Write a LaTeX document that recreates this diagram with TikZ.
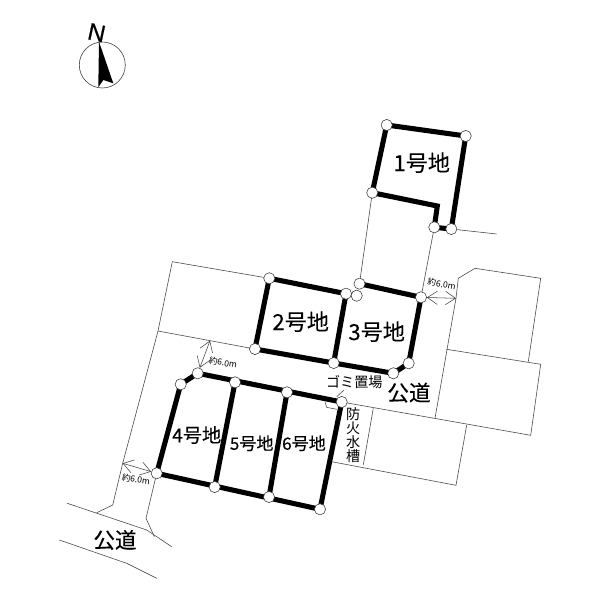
\documentclass[tikz,border=0pt]{standalone}
\usepackage{fontspec}
\setmainfont[FakeBold=0.25]{Noto Sans CJK JP}
\newfontfamily\plainjp{Noto Sans CJK JP}
\newfontfamily\latinf[FakeBold=0.6]{Liberation Sans}
\usetikzlibrary{arrows.meta,backgrounds}
\tikzset{
 px/.style={x=0.75pt,y=-0.75pt},
 mk/.style={circle,draw=black!80,line width=0.4pt,fill=white,minimum size=8.4pt,inner sep=0pt},
 lot/.style={line width=3.8pt,line join=miter,black},
 thin/.style={line width=0.45pt,black!70},
 dimline/.style={line width=0.4pt,black!75,{Straight Barb[length=7.5pt,width=10pt,line width=0.4pt]}-{Straight Barb[length=7.5pt,width=10pt,line width=0.4pt]}},
 lab/.style={inner sep=0pt,text=black},
 big/.style={lab,font=\fontsize{16.6pt}{16.6pt}\selectfont},
 mid/.style={lab,font=\fontsize{12.8pt}{12.8pt}\selectfont},
 midb/.style={lab,font=\fontsize{14.4pt}{14.4pt}\selectfont},
 road/.style={lab,font=\fontsize{16.2pt}{16.2pt}\selectfont},
 small/.style={lab,font=\plainjp\fontsize{10.6pt}{10.6pt}\selectfont},
 tiny/.style={lab,font=\plainjp\fontsize{6.4pt}{6.4pt}\selectfont}
}
\begin{document}
\begin{tikzpicture}[px]
\useasboundingbox (0,0) rectangle (600,600);
\foreach \n/\x/\y in {
 c1/437.3/206, e1/496.7/234,
 t1/172.3/261.7, t2/158/331, t3/122.7/463.3, t4/112.7/505, t5/96.7/512.7,
 r1/67.3/503.3, r2/146.7/530, r3/171.7/546.7,
 s1/59.3/540, s2/126.7/563.3, s3/156.7/578.3,
 u1/146/518.3, u2/154.3/536.7,
 v0/456/298.3, v1/458.3/278.3, v2/475/268.3, v3/540.7/278.3, v4/528.3/361.7,
 v5/446.7/349.3, v6/540.7/364.3, v7/530.7/435.3, v8/435/418.3,
 w1/466.7/425, w2/456/485.3, w3/331.7/461.7, w4/373.3/408.3, w5/363.3/465,
 d1/210/340.7,
 b1/325/401.7, b2/326.7/407.3, b3/336.7/409.3, l1/336.7/396.7, l2/344/390,
 n1/99/41.7, n2/113.3/83.3, n3/103.3/80, n4/98.3/87.3}
 {\coordinate (\n) at (\x,\y);}
\foreach \n/\x/\y in {
 a1/386.7/125, a2/465.7/136, a3/372.3/192.7, a5/434.3/227.3, a6/451.3/229,
 a7/359.5/283.7, b7/346/293.7, b8/356.7/295.7, b9/421/297.3,
 p1/269.3/278.3, p3/255/349, p4/333.7/363,
 q1/408.7/363.3, q2/393.3/373.3,
 f1/197.7/373.3, f2/180.7/384.3, f3/235/382.3, f4/287/392.3, f5/341.7/402,
 g1/156.7/473.3, g2/214.7/487, g3/269/497, g4/320/509.3}
 {\node[mk] (\n) at (\x,\y) {};}
\begin{pgfonlayer}{background}
\draw[thin] (a3.center) -- (a7.center);
\draw[thin] (a5.center) -- (b9.center);
\draw[thin] (a6.center) -- (e1);
\draw[thin] (p1.center) -- (t1) -- (t2) -- (t3) -- (t4) -- (t5);
\draw[thin] (t2) -- (p3.center);
\draw[thin] (r1) -- (r2) -- (r3);
\draw[thin] (s1) -- (s2) -- (s3);
\draw[thin] (g1.center) -- (u1) -- (u2);
\draw[thin] (v8) -- (v0) -- (v1) -- (v2) -- (v3) -- (v4);
\draw[thin] (v5) -- (v6) -- (v7) -- (f5.center);
\draw[thin] (w1) -- (w2) -- (w3);
\draw[thin] (w4) -- (w5);
\draw[thin] (b1) -- (b2) -- (b3);
\draw[thin] (l1) -- (l2);
\draw[lot] (a3.center) -- (a1.center) -- (a2.center) -- (a6.center) -- (a5.center) -- (c1) -- (a3.center);
\draw[lot] (p1.center) -- (b7.center) -- (p4.center) -- (p3.center) -- cycle;
\draw[lot] (a7.center) -- (b9.center) -- (q1.center) -- (q2.center) -- (p4.center);
\draw[lot] (g1.center) -- (f2.center) -- (f1.center) -- (f5.center) -- (g4.center) -- cycle;
\draw[lot] (f3.center) -- (g2.center);
\draw[lot] (f4.center) -- (g3.center);
\end{pgfonlayer}
\draw[dimline] (f1) -- (d1);
\draw[dimline] (t3) -- (g1);
\draw[dimline] (b9) -- (v0);
\node[tiny,rotate=-10] (dl1) at (223,362.7) {約6.0m};
\node[tiny,rotate=-10] (dl2) at (136,479.3) {約6.0m};
\node[tiny,rotate=-10] (dl3) at (441.7,284) {約6.0m};
\node[big] (n1l) at (421.7,162.7) {1号地};
\node[big] (n2l) at (300.7,321.7) {2号地};
\node[big] (n3l) at (376.7,331.7) {3号地};
\node[midb] (n4l) at (196.7,435) {4号地};
\node[mid] (n5l) at (251.7,443.3) {5号地};
\node[mid] (n6l) at (304,443.3) {6号地};
\node[road] (k1) at (409,392.7) {公道};
\node[road] (k2) at (115,540) {公道};
\node[small] (gm) at (354.3,381.7) {ゴミ置場};
\node[small,align=center] (bs) at (353.3,435) {防\\火\\水\\槽};
\node[circle,draw=black!75,line width=0.45pt,minimum size=34.5pt,inner sep=0pt] (cp) at (102.3,65) {};
\fill[black] (n1) -- (n2) -- (n3) -- (n4) -- cycle;
\node[lab,rotate=-12,font=\latinf\fontsize{18pt}{18pt}\selectfont] (nn) at (96.7,32.7) {N};
\end{tikzpicture}
\end{document}
